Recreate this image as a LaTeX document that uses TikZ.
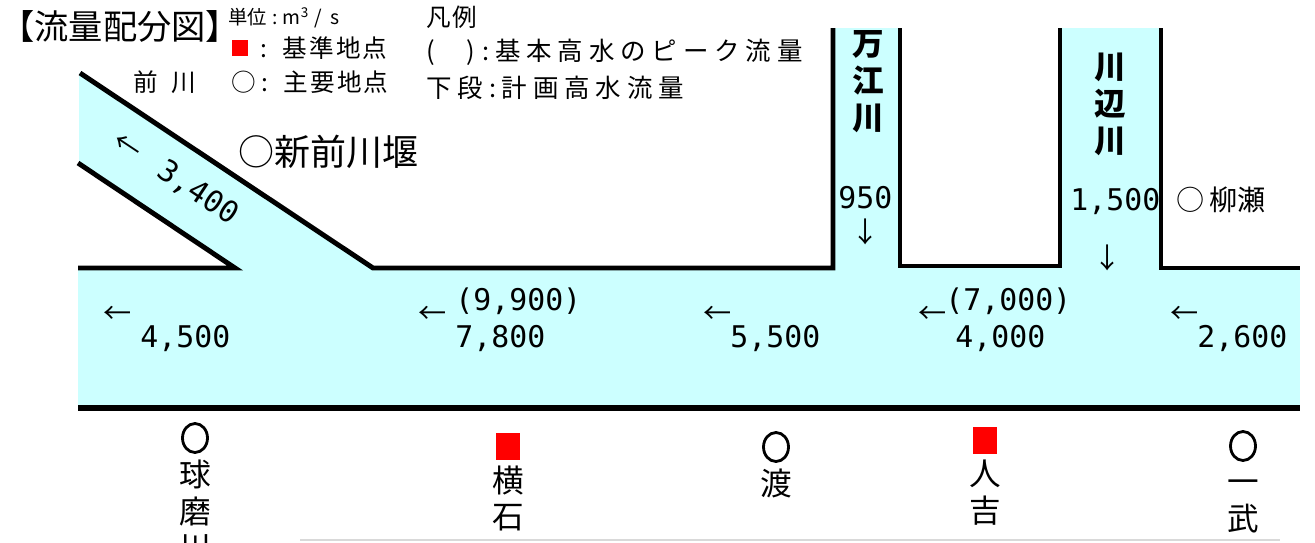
\documentclass[tikz,border=0pt]{standalone}
\usepackage{fontspec}
\setmainfont{Noto Sans CJK JP}
\newfontfamily\legendfont{Noto Sans CJK JP}[LetterSpace=23]
\newfontfamily\keyfont{Noto Sans CJK JP}[LetterSpace=8]
\newfontfamily\numfont{DejaVu Sans Mono}
\usepackage{tikz}
\usetikzlibrary{positioning,shapes.geometric}
\definecolor{kawa}{RGB}{204,255,255}
\definecolor{aka}{RGB}{255,0,0}
\newcommand{\tatetop}{\rule{0pt}{15pt}}

\begin{document}
\begin{tikzpicture}[x=0.02cm, y=-0.02cm,
    bank/.style={line width=2.8pt, black},
    title/.style={font=\fontsize{19.5}{22}\selectfont, inner sep=0, anchor=west},
    unit/.style={font=\fontsize{11}{13}\selectfont, inner sep=0, anchor=west},
    key/.style={font=\keyfont\fontsize{14}{16}\selectfont, inner sep=0, anchor=west},
    legend/.style={font=\legendfont\fontsize{14.5}{16}\selectfont, inner sep=0, anchor=west},
    flow/.style={font=\numfont\fontsize{17}{20}\selectfont, inner sep=0, anchor=base west},
    flowarrow/.style={font=\fontsize{16}{16}\selectfont, inner sep=0},
    rivername/.style={font=\bfseries\fontsize{18}{21}\selectfont, align=center, inner sep=0},
    place/.style={font=\fontsize{18}{21}\selectfont, align=center, inner sep=0, anchor=north},
    kijun/.style={rectangle, fill=aka, inner sep=0, minimum width=0.48cm, minimum height=0.54cm},
    shuyo/.style={ellipse, draw, line width=1.6pt, inner sep=0, minimum width=0.5cm, minimum height=0.58cm}]
    \useasboundingbox (0,0) rectangle (1315,542);
    % 水面
    \fill[kawa] (78,268) rectangle (1300,406);
    \fill[kawa] (79,73) -- (373,268) -- (235,268) -- (79,163) -- cycle;
    \fill[kawa] (833,28) rectangle (900,268);
    \fill[kawa] (1060,28) rectangle (1161,268);
    % 河岸
    \draw[bank] (78,268) -- (235,268) -- (78,163);
    \draw[bank] (80,73) -- (373,268) -- (833,268) -- (833,28);
    \draw[bank] (900,28) -- (900,266) -- (1060,266) -- (1060,28);
    \draw[bank] (1161,28) -- (1161,268) -- (1300,268);
    \draw[bank, line width=3.2pt] (78,408) -- (1300,408);
    \draw[black!15, line width=0.6pt] (300,540) -- (1280,540);

    % 凡例
    \node[title] (title) at (0,26) {【流量配分図】};
    \node[unit] (tani) at (228,18) {単位\hspace{3pt}:\hspace{3pt}m\textsuperscript{3}\hspace{3pt}/\hspace{5pt}s};
    \node[kijun, minimum width=0.32cm, minimum height=0.32cm] (kijunmark) at (240,48) {};
    \node[key] (kijuntext) at (260,48) {:\hspace{9pt}基準地点};
    \node[key] (shuyotext) at (231,82) {○\hspace{3pt}:\hspace{9pt}主要地点};
    \node[key] (hanrei) at (426,17) {凡例};
    \node[legend] (peak) at (426,52) {(\hspace{18pt})\hspace{4pt}:基本高水のピーク流量};
    \node[legend] (keikaku) at (426,88) {下段:計画高水流量};

    % 支川
    \node[key, font=\fontsize{14}{16}\selectfont] (maekawa) at (133,82) {前\kern8pt川};
    \node[title, font=\fontsize{20.5}{24}\selectfont] (sekimae) at (238,152) {○新前川堰};
    \node[flowarrow, rotate=-33.6] (a3400) at (127,147) {←};
    \node[flow, anchor=center, rotate=-33.6] (q3400) at (198,193) {3,400};
    \node[rivername] (makae) at (868,82) {万\\江\\川};
    \node[flow] (q950) at (838,208) {950};
    \node[flowarrow] (a950) at (866,232) {↓};
    \node[rivername] (kawabe) at (1110,104) {川\\辺\\川};
    \node[flow] (q1500) at (1070,210) {1,500};
    \node[flowarrow] (a1500) at (1108,258) {↓};
    \node[key, font=\fontsize{16}{18}\selectfont] (yanase) at (1176,200) {○\,柳瀬};

    % 本川の流量
    \node[flowarrow] (a4500) at (118,315) {←};
    \node[flow] (q4500) at (140,347) {4,500};
    \node[flowarrow] (a7800) at (433,315) {←};
    \node[flow] (p9900) at (455,310) {(9,900)};
    \node[flow] (q7800) at (455,347) {7,800};
    \node[flowarrow] (a5500) at (718,315) {←};
    \node[flow] (q5500) at (730,347) {5,500};
    \node[flowarrow] (a4000) at (933,315) {←};
    \node[flow] (p7000) at (945,310) {(7,000)};
    \node[flow] (q4000) at (955,347) {4,000};
    \node[flowarrow] (a2600) at (1185,315) {←};
    \node[flow] (q2600) at (1197,347) {2,600};

    % 地点
    \node[shuyo] (kuma) at (195,438) {};
    \node[place, below=3pt of kuma] {\tatetop 球\\磨\\川};
    \node[kijun] (yokoishi) at (508,446) {};
    \node[place, below=3pt of yokoishi] {\tatetop 横\\石};
    \node[shuyo] (watari) at (776,447) {};
    \node[place, below=3pt of watari] {\tatetop 渡};
    \node[kijun] (hitoyoshi) at (985,440) {};
    \node[place, below=3pt of hitoyoshi] {\tatetop 人\\吉};
    \node[shuyo] (ichibu) at (1243,446) {};
    \node[place, below=3pt of ichibu] {\tatetop 一\\武};
\end{tikzpicture}
\end{document}
